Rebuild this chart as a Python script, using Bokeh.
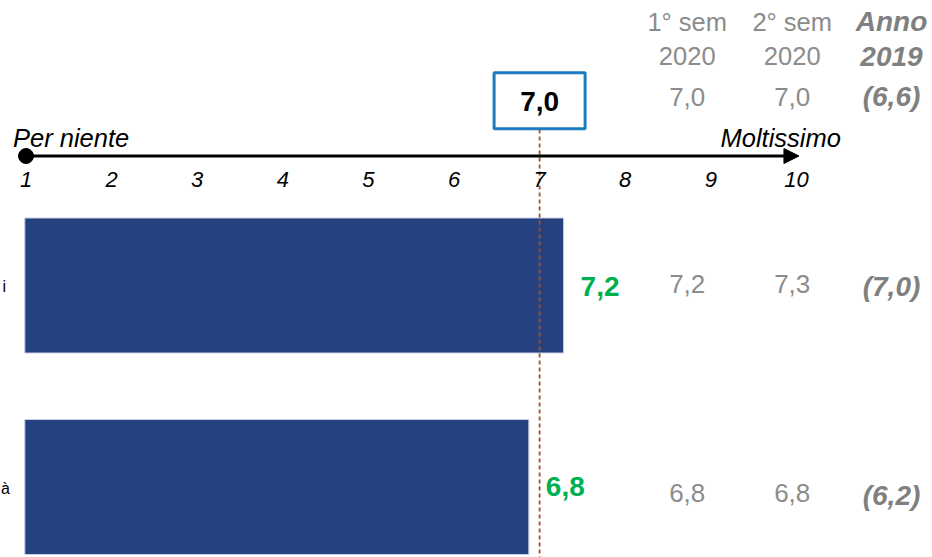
from bokeh.plotting import figure
from bokeh.models import Range1d, Arrow, NormalHead
from bokeh.core.properties import value
from bokeh.embed import file_html
from bokeh.resources import INLINE

# ---- data -------------------------------------------------------------
categories = ["i", "à"]
current_scores = [7.2, 6.8]
current_mean = 7.0

sem1_2020_scores = [7.2, 6.8]
sem1_2020_mean = 7.0
sem2_2020_scores = [7.3, 6.8]
sem2_2020_mean = 7.0
year_2019_scores = [7.0, 6.2]
year_2019_mean = 6.6

scale_ticks = list(range(1, 11))
scale_min_label = "Per niente"
scale_max_label = "Moltissimo"
column_headers = [("1° sem", "2020"), ("2° sem", "2020"), ("Anno", "2019")]


def fmt(v):
    return f"{v:.1f}".replace(".", ",")


# ---- layout -----------------------------------------------------------
W, H = 932, 557
FONT = value("Liberation Sans")
GRAY = "#8c8c8c"
GRAY_BOLD = "#808080"
NAVY = "#264180"
GREEN = "#00b050"
BLUE = "#1b7dc0"
RED_DASH = "#a0522d"

# scale axis: value 1 at 25.5px, 85.6px per unit
ax_unit, ax_one = 85.6, 25.5
x_start = 1 - ax_one / ax_unit
x_end = x_start + W / ax_unit
# bar scale: value 1 at 24.3px, 86.9px per unit
bar_unit, bar_one = 86.9, 24.3
b_start = 1 - bar_one / bar_unit
b_end = b_start + W / bar_unit

p = figure(width=W, height=H,
           x_range=Range1d(x_start, x_end), y_range=Range1d(H, 0),
           output_backend="svg", toolbar_location=None,
           x_axis_location=None, y_axis_location=None,
           min_border=0, outline_line_color=None)
p.extra_x_ranges = {"bars": Range1d(b_start, b_end), "px": Range1d(0, W)}
p.grid.visible = False
p.background_fill_color = "white"
p.border_fill_color = "white"

row_y = [285, 486.5]
bar_h = 135

# bars
p.hbar(y=row_y, left=1, right=current_scores, height=bar_h,
       x_range_name="bars", fill_color=NAVY, line_color="#c8cfe0",
       line_width=1)

# reference line at the overall mean
axis_y = 155.5
p.segment(x0=[current_mean], y0=[129], x1=[current_mean], y1=[H],
          line_color=RED_DASH, line_width=1.8, line_dash="4 3")

# scale arrow with starting dot
p.add_layout(Arrow(x_start=1, y_start=axis_y, x_end=10.03, y_end=axis_y,
                   line_width=3, line_color="black",
                   end=NormalHead(size=15, fill_color="black",
                                  line_color="black")))
p.scatter(x=[1], y=[axis_y], size=15, color="black")

p.text(x=scale_ticks, y=[179] * len(scale_ticks),
       text=[str(t) for t in scale_ticks],
       text_font=FONT, text_font_size="22px", text_font_style="italic",
       text_align="center", text_baseline="alphabetic", text_color="black")
p.text(x=[12.5], y=[137], text=[scale_min_label], x_range_name="px",
       text_font=FONT, text_font_size="25.5px", text_font_style="italic",
       text_align="left", text_baseline="alphabetic", text_color="black")
p.text(x=[720], y=[137], text=[scale_max_label], x_range_name="px",
       text_font=FONT, text_font_size="25.5px", text_font_style="italic",
       text_align="left", text_baseline="alphabetic", text_color="black")

# mean box
p.rect(x=[current_mean], y=[100.3], width=91, height=56,
       width_units="screen", height_units="screen",
       fill_color="white", line_color=BLUE, line_width=3)
p.text(x=[current_mean], y=[100.5], text=[fmt(current_mean)],
       text_font=FONT, text_font_size="28px", text_font_style="bold",
       text_align="center", text_baseline="alphabetic", text_color="black")

# category labels
p.text(x=[5.5, 9.5], y=[r + 1 for r in row_y], text=categories,
       x_range_name="px", text_font=FONT, text_font_size="16px",
       text_align="right", text_baseline="alphabetic", text_color="black")

# value labels next to bars
p.text(x=current_scores, y=[285.5, 486], text=[fmt(v) for v in current_scores],
       x_range_name="bars", x_offset=17,
       text_font=FONT, text_font_size="28px", text_font_style="bold",
       text_align="left", text_baseline="alphabetic", text_color=GREEN)

# comparison columns
col_x = [686.7, 791.7, 891]
for cx, (h1, h2) in zip(col_x[:2], column_headers[:2]):
    p.text(x=[cx, cx], y=[21.5, 55], text=[h1, h2], x_range_name="px",
           text_font=FONT, text_font_size="25.5px",
           text_align="center", text_baseline="alphabetic", text_color=GRAY)
h1, h2 = column_headers[2]
p.text(x=[col_x[2]] * 2, y=[20.5, 56], text=[h1, h2], x_range_name="px",
       text_font=FONT, text_font_size="28px", text_font_style="bold italic",
       text_align="center", text_baseline="alphabetic", text_color=GRAY_BOLD)

for cx, mean, scores in [(col_x[0], sem1_2020_mean, sem1_2020_scores),
                         (col_x[1], sem2_2020_mean, sem2_2020_scores)]:
    p.text(x=[cx] * 3, y=[96, 283, 492.5],
           text=[fmt(mean)] + [fmt(v) for v in scores], x_range_name="px",
           text_font=FONT, text_font_size="26px",
           text_align="center", text_baseline="alphabetic", text_color=GRAY)

p.text(x=[col_x[2]] * 3, y=[96, 286, 495],
       text=[f"({fmt(v)})" for v in [year_2019_mean] + year_2019_scores],
       x_range_name="px", text_font=FONT, text_font_size="28px",
       text_font_style="bold italic", text_align="center",
       text_baseline="alphabetic", text_color=GRAY_BOLD)

open("out.html", "w").write(file_html(p, INLINE))
